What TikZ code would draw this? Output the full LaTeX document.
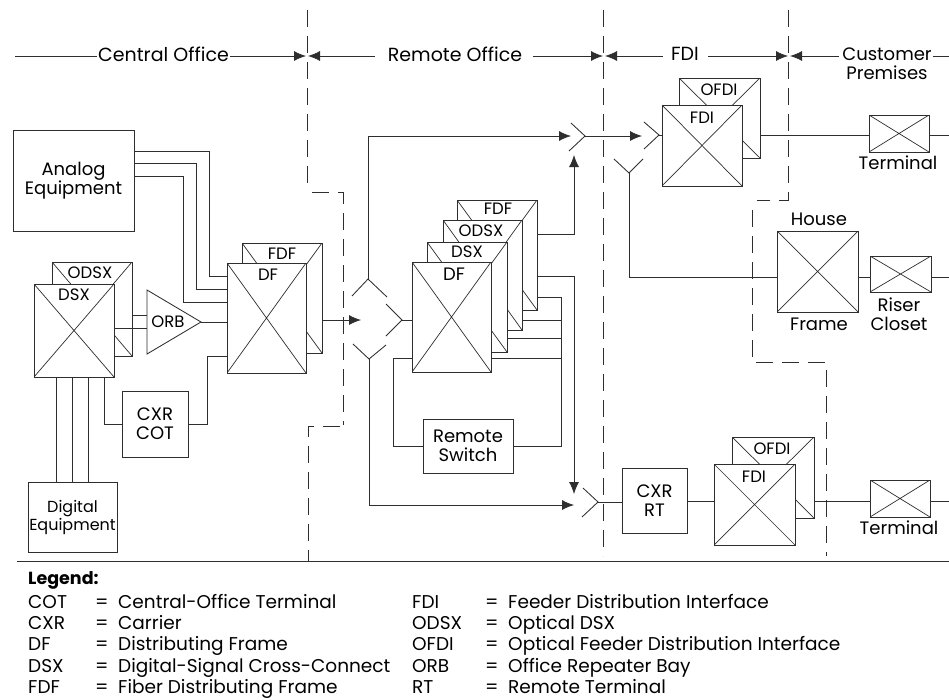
\documentclass[tikz,border=0pt]{standalone}
\usepackage{fontspec}
\setmainfont{Poppins}
\usetikzlibrary{arrows.meta}
\definecolor{ink}{gray}{0.18}
\tikzset{
  wire/.style={draw=ink,line width=0.85pt,line join=miter},
  arrowwire/.style={wire,-{Latex[length=12pt,width=10pt]}},
  divider/.style={draw=ink,line width=0.85pt,dash pattern=on 17pt off 9pt},
  box/.style={draw=ink,line width=0.85pt,fill=white,inner sep=0pt,align=center,text=black,font=\fontsize{18}{19}\selectfont},
  crossbox/.style={box,path picture={\draw[ink,line width=0.7pt]
     (path picture bounding box.north west)--(path picture bounding box.south east)
     (path picture bounding box.north east)--(path picture bounding box.south west);}},
  lab/.style={inner sep=0pt,align=center,font=\fontsize{18}{19}\selectfont},
  tag/.style={inner sep=0pt,align=center,font=\fontsize{16.5}{18}\selectfont},
  head/.style={inner sep=0pt,align=center,font=\fontsize{19}{19}\selectfont},
  leg/.style={inner sep=0pt,anchor=base west,font=\fontsize{18.5}{21}\selectfont},
}
\newcommand{\bx}[6][box]{\node[#1,minimum width=#5-#3,minimum height=#6-#4] (#2) at ({(#3+#5)/2},{(#4+#6)/2}) {};}
\newcommand{\tbx}[7][box]{\node[#1,minimum width=#5-#3,minimum height=#6-#4] (#2) at ({(#3+#5)/2},{(#4+#6)/2}) {#7};}
\begin{document}
\begin{tikzpicture}[x=1pt,y=-1pt]
\useasboundingbox (0,0) rectangle (949,699);
\fill[white] (0,0) rectangle (949,699);

% dividers
\draw[divider] (307,10) -- (307,183);
\draw[divider] (312,192) -- (343,192) -- (343,425);
\draw[divider] (340,426) -- (308,426) -- (308,561);
\draw[divider] (603,10) -- (603,556);
\draw[divider] (788,10) -- (788,200) -- (757,200);
\draw[divider] (752,210) -- (752,362) -- (826,362) -- (826,556);

% header
\node[head] (hco) at (163.5,54) {Central Office};
\node[head] (hro) at (455,54) {Remote Office};
\node[head] (hfd) at (685,54) {FDI};
\node[lab] (hcp) at (887,63.5) {Customer\\Premises};
\coordinate (hl0) at (15,56); \coordinate (ha1) at (306,56);
\coordinate (ha2) at (308,56); \coordinate (ha3) at (603,56);
\coordinate (ha4) at (605,56); \coordinate (ha5) at (788,56);
\coordinate (ha6) at (790,56); \coordinate (hr) at (949,56);
\draw[wire] (hl0) -- (97,56);
\draw[arrowwire] (230,56) -- (ha1);
\draw[arrowwire] (375,56) -- (ha2);
\draw[arrowwire] (533,56) -- (ha3);
\draw[arrowwire] (663,56) -- (ha4);
\draw[arrowwire] (708,56) -- (ha5);
\draw[arrowwire] (839,56) -- (ha6);
\draw[wire] (933,56) -- (hr);

% Central office
\tbx{ana}{13}{130}{134}{231}{Analog\\Equipment}
\bx[crossbox]{odsxa}{52}{262}{132}{356}
\bx[crossbox]{dsxa}{34}{284}{114}{377}
\node[tag] (lodsxa) at (90,273) {ODSX};
\node[tag] (ldsxa) at (74,295) {DSX};
\bx[crossbox]{fdfa}{242}{243}{322}{353}
\bx[crossbox]{dfa}{227}{263}{306}{373}
\node[tag] (lfdfa) at (282,254) {FDF};
\node[tag] (ldfa) at (268,275) {DF};
\draw[wire,fill=white] (147,290) -- (201,322) -- (147,354) -- cycle;
\coordinate (orbw) at (147,322); \coordinate (orbe) at (201,322);
\node[tag] (lorb) at (168,322) {ORB};
\tbx{cot}{122}{391}{188}{457}{CXR\\COT}
\tbx[box,font=\fontsize{16}{18}\selectfont]{dig}{28}{482}{117}{552}{Digital\\Equipment}

\draw[wire] (ana.east |- 0,151) -| (209,276) -- (dfa.west |- 0,276);
\draw[wire] (ana.east |- 0,163) -| (196,289) -- (dfa.west |- 0,289);
\draw[wire] (ana.east |- 0,176) -| (183,302) -- (dfa.west |- 0,302);
\draw[wire] (odsxa.east |- 0,315) -- (orbw |- 0,315);
\draw[wire] (dsxa.east |- 0,328) -- (orbw |- 0,328);
\draw[wire] (orbe) -- (dfa.west |- orbe);
\draw[wire] (dsxa.south -| 104,0) |- (cot.west);
\draw[wire] (cot.east) -| (207,356) -- (dfa.west |- 0,356);
\draw[wire] (dsxa.south -| 56,0) -- (dig.north -| 56,0);
\draw[wire] (dsxa.south -| 72,0) -- (dig.north -| 72,0);
\draw[wire] (dsxa.south -| 88,0) -- (dig.north -| 88,0);

% Remote office
\bx[crossbox]{fdfb}{457}{200}{537}{310}
\bx[crossbox]{odsxb}{443}{220}{522}{330}
\bx[crossbox]{dsxb}{427}{242}{507}{352}
\bx[crossbox]{dfb}{412}{262}{491}{372}
\node[tag] (lfdfb) at (498,209) {FDF};
\node[tag] (lodsxb) at (481,231) {ODSX};
\node[tag] (ldsxb) at (467,252) {DSX};
\node[lab] (ldfb) at (454,274) {DF};
\tbx{sw}{423}{419}{513}{473}{Remote\\Switch}

\coordinate (spn) at (368,279);
\coordinate (spe) at (402,320);
\coordinate (sps) at (369,359);
\draw[wire] (352,296) -- (spn) -- (387,297);
\draw[wire] (386,304) -- (spe) -- (386,336);
\draw[wire] (353,344) -- (sps) -- (386,345);
\coordinate (spin) at (361,320);
\draw[arrowwire] (fdfa.east |- spin) -- (spin);
\draw[wire] (spe) -- (dfb.west |- spe);

\coordinate (ct1) at (585,136);
\coordinate (cb1) at (598,502);
\draw[wire] (571,123) -- (ct1) -- (569,151);
\draw[wire] (583,488) -- (cb1) -- (582,517);
\draw[arrowwire] (spn) |- (571,136);
\draw[arrowwire] (sps) |- (574,505);
\draw[arrowwire] (fdfb.east |- 0,234) -| (574,155);
\draw[arrowwire] (fdfb.east |- 0,276) -| (574,494);
\coordinate (bus) at (561,297);
\draw[wire] (fdfb.east |- bus) -- (bus) -- (561,446) -- (sw.east |- 0,446);
\draw[wire] (odsxb.east |- 0,320) -- (561,320);
\draw[wire] (dsxb.east |- 0,338) -- (561,338);
\draw[wire] (dfb.east |- 0,358) -- (561,358);
\draw[wire] (sw.west |- 0,446) -| (393,358) -- (dfb.west |- 0,358);

% FDI upper
\bx[crossbox]{ofdia}{679}{78}{760}{158}
\bx[crossbox]{fdia}{662}{105}{742}{186}
\node[tag] (lofdia) at (719,90) {OFDI};
\node[tag] (lfdia) at (702,118) {FDI};
\coordinate (cfa) at (659,135);
\draw[wire] (644,122) -- (cfa) -- (644,149);
\draw[arrowwire] (ct1) -- (642,136);
\draw[wire] (cfa) -- (fdia.west |- cfa);
\bx[crossbox]{terma}{869}{115}{929}{152}
\node[lab] (ltera) at (898,163) {Terminal};
\draw[wire] (ofdia.east |- 0,135) -- (terma.west |- 0,135);
\coordinate (ra) at (949,135);
\draw[wire] (terma.east |- ra) -- (ra);

% House
\coordinate (cfb) at (629,173);
\draw[wire] (614,159) -- (cfb) -- (643,159);
\bx[crossbox]{house}{777}{231}{858}{312}
\bx[crossbox]{riser}{870}{256}{931}{292}
\node[lab] (lhouse) at (819,219) {House};
\node[lab] (lframe) at (819,324) {Frame};
\node[lab] (lriser) at (899,314) {Riser\\Closet};
\draw[wire] (cfb) |- (house.west |- 0,277);
\draw[wire] (house.east |- 0,277) -- (riser.west |- 0,277);
\coordinate (rb) at (949,277);
\draw[wire] (riser.east |- rb) -- (rb);

% FDI lower
\tbx{rt}{622}{468}{687}{533}{CXR\\RT}
\bx[crossbox]{ofdib}{732}{437}{814}{518}
\bx[crossbox]{fdib}{714}{464}{795}{545}
\node[tag] (lofdib) at (772,449) {OFDI};
\node[tag] (lfdib) at (754,477) {FDI};
\bx[crossbox]{termb}{870}{480}{930}{517}
\node[lab] (lterb) at (899,528) {Terminal};
\draw[wire] (cb1) -- (rt.west |- cb1);
\draw[wire] (rt.east |- 0,501) -- (fdib.west |- 0,501);
\draw[wire] (ofdib.east |- 0,501) -- (termb.west |- 0,501);
\coordinate (rc) at (949,501);
\draw[wire] (termb.east |- rc) -- (rc);

% legend
\coordinate (rl) at (17,561); \coordinate (rr) at (949,561);
\draw[wire] (rl) -- (rr);
\node[leg,font=\fontsize{17.5}{20}\selectfont\bfseries] (lg) at (28,584) {Legend:};
\node[leg] (a1) at (28,608) {COT};  \node[leg] (e1) at (95,608) {=}; \node[leg] (d1) at (118,608) {Central-Office Terminal};
\node[leg] (a2) at (28,629) {CXR};  \node[leg] (e2) at (95,629) {=}; \node[leg] (d2) at (118,629) {Carrier};
\node[leg] (a3) at (28,650) {DF};   \node[leg] (e3) at (95,650) {=}; \node[leg] (d3) at (118,650) {Distributing Frame};
\node[leg] (a4) at (28,672) {DSX};  \node[leg] (e4) at (95,672) {=}; \node[leg] (d4) at (118,672) {Digital-Signal Cross-Connect};
\node[leg] (a5) at (28,693) {FDF};  \node[leg] (e5) at (95,693) {=}; \node[leg] (d5) at (118,693) {Fiber Distributing Frame};
\node[leg] (b1) at (412,608) {FDI};  \node[leg] (f1) at (485,608) {=}; \node[leg] (g1) at (508,608) {Feeder Distribution Interface};
\node[leg] (b2) at (412,629) {ODSX}; \node[leg] (f2) at (485,629) {=}; \node[leg] (g2) at (508,629) {Optical DSX};
\node[leg] (b3) at (412,650) {OFDI}; \node[leg] (f3) at (485,650) {=}; \node[leg] (g3) at (508,650) {Optical Feeder Distribution Interface};
\node[leg] (b4) at (412,672) {ORB};  \node[leg] (f4) at (485,672) {=}; \node[leg] (g4) at (508,672) {Office Repeater Bay};
\node[leg] (b5) at (412,693) {RT};   \node[leg] (f5) at (485,693) {=}; \node[leg] (g5) at (508,693) {Remote Terminal};
\end{tikzpicture}
\end{document}
